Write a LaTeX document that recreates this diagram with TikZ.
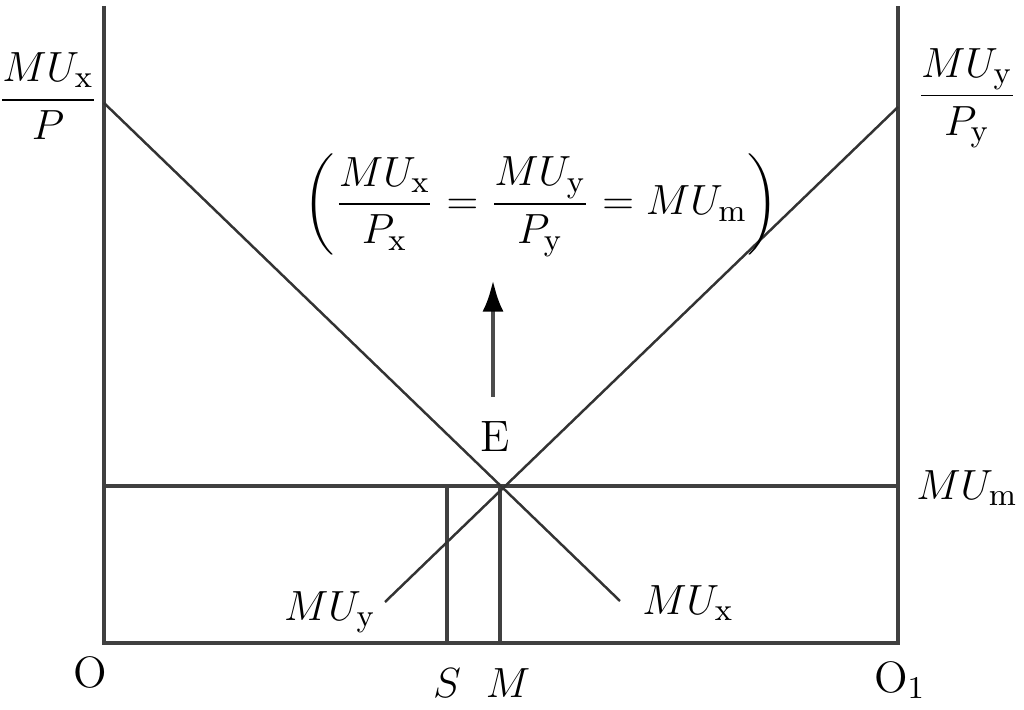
\documentclass[tikz,border=0pt]{standalone}
\usepackage{amsmath}
\usetikzlibrary{arrows.meta,positioning}

\tikzset{
	axis/.style={draw=black!75,line width=1pt},
	curve/.style={draw=black!80,line width=0.7pt},
	lab/.style={inner sep=1pt}
}

\begin{document}
\begin{tikzpicture}[>={Latex[length=9pt,width=6pt,black]}, x=0.01cm, y=-0.01cm, font=\fontsize{12.5}{15}\selectfont]
			\useasboundingbox (0,0) rectangle (1024,710);
			% corners and points
			\coordinate (O) at (104,643);
			\coordinate (O1) at (898,643);
			\coordinate (Ltop) at (104,6);
			\coordinate (Rtop) at (898,6);
			\coordinate (E) at (500,486);
			\coordinate (Lm) at (104,486);
			\coordinate (Rm) at (898,486);
			\coordinate (S) at (447,643);
			\coordinate (Sm) at (447,486);
			\coordinate (M) at (500,643);
			\coordinate (xstart) at (104,103);
			\coordinate (xend) at (620,601);
			\coordinate (ystart) at (898,107);
			\coordinate (yend) at (385,602);
			\coordinate (arrbase) at (493,397);
			\coordinate (arrtip) at (493,280);

			\draw[axis] (Ltop) -- (O) -- (O1) -- (Rtop);
			\draw[axis] (Lm) -- (Rm);
			\draw[axis] (Sm) -- (S);
			\draw[axis] (E) -- (M);
			\draw[curve] (xstart) -- (xend);
			\draw[curve] (ystart) -- (yend);
			\draw[->,line width=1.3pt,draw=black!70] (arrbase) -- (arrtip);

			\node[lab] (mux) at (48,96) {$\dfrac{MU_{\mathrm{x}}}{P}$};
			\node[lab] (muy) at (967,98) {$\dfrac{MU_{\mathrm{y}}}{P_{\mathrm{y}}}$};
			\node[lab] (eq) at (541,205) {$\left(\dfrac{MU_{\mathrm{x}}}{P_{\mathrm{x}}}=\dfrac{MU_{\mathrm{y}}}{P_{\mathrm{y}}}=MU_{\mathrm{m}}\right)$};
			\node[lab] (elab) at (495,437) {E};
			\node[lab] (mum) at (967,488) {$MU_{\mathrm{m}}$};
			\node[lab] (muylab) at (330,612) {$MU_{\mathrm{y}}$};
			\node[lab] (muxlab) at (688,603) {$MU_{\mathrm{x}}$};
			\node[lab] (olab) at (90,672) {O};
			\node[lab] (o1lab) at (900,680) {O$_1$};
			\node[lab] (slab) at (447,683) {$S$};
			\node[lab] (mlab) at (508,683) {$M$};
		\end{tikzpicture}
\end{document}
